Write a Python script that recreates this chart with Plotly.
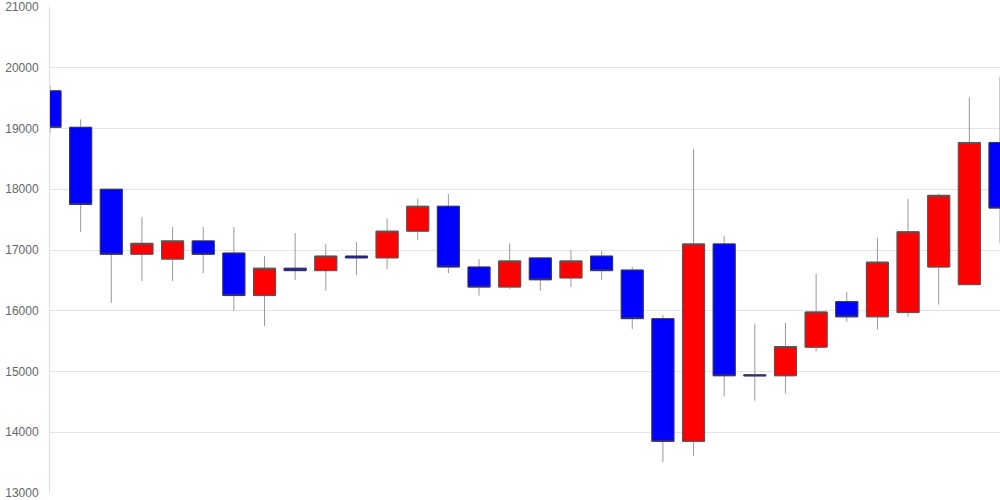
import plotly.graph_objects as go

UP, DN = "#ff0000", "#0000ff"

# 32 sessions, values
idx = list(range(32))
opens = [19620, 19020, 18000, 16930, 16850, 17150, 16950, 16250, 16700, 16660,
         16900, 16870, 17310, 17720, 16720, 16390, 16870, 16540, 16900, 16670,
         15870, 13850, 17100, 14945, 14930, 15400, 16150, 15900, 15970, 16720,
         16430, 18770]
highs = [19705, 19150, 18000, 17540, 17380, 17380, 17380, 16900, 17280, 17100,
         17130, 17520, 17850, 17920, 16850, 17110, 16870, 17000, 16980, 16720,
         15930, 18660, 17230, 15790, 15800, 16610, 16310, 17200, 17840, 17930,
         19510, 19850]
lows = [18920, 17300, 16130, 16490, 16490, 16620, 16000, 15750, 16510, 16330,
        16590, 16690, 17160, 16620, 16250, 16360, 16330, 16390, 16510, 15700,
        13510, 13610, 14590, 14520, 14640, 15330, 15820, 15690, 15900, 16100,
        16430, 17110]
closes = [19020, 17750, 16930, 17110, 17150, 16930, 16250, 16700, 16660, 16900,
          16870, 17310, 17720, 16720, 16390, 16820, 16510, 16820, 16660, 15870,
          13850, 17100, 14930, 14930, 15410, 15980, 15900, 16800, 17300, 17900,
          18770, 17690]

body_hi = [max(o, c) for o, c in zip(opens, closes)]
body_lo = [min(o, c) for o, c in zip(opens, closes)]

fig = go.Figure()
# 꼬리(wick) - light gray
fig.add_trace(go.Candlestick(
    x=idx, open=opens, high=highs, low=lows, close=closes,
    increasing=dict(line=dict(color="#999999", width=1), fillcolor="rgba(0,0,0,0)"),
    decreasing=dict(line=dict(color="#999999", width=1), fillcolor="rgba(0,0,0,0)"),
    showlegend=False, hoverinfo="skip"))
# 몸통(body)
fig.add_trace(go.Candlestick(
    x=idx, open=opens, high=body_hi, low=body_lo, close=closes,
    increasing=dict(line=dict(color="#555555", width=1), fillcolor=UP),
    decreasing=dict(line=dict(color="#333366", width=1), fillcolor=DN),
    showlegend=False))

fig.update_layout(
    width=1000, height=500,
    margin=dict(l=50, r=0, t=6, b=6),
    paper_bgcolor="white", plot_bgcolor="white",
    boxgap=0.28, boxgroupgap=0, boxmode="overlay",
    font=dict(family="Liberation Sans, Arial, sans-serif", size=12, color="#666666"),
    xaxis=dict(range=[0, 31], showticklabels=False, showgrid=False, zeroline=False,
               rangeslider=dict(visible=False), fixedrange=True),
    yaxis=dict(range=[13000, 21000], dtick=1000, tick0=13000, showgrid=True,
               gridcolor="#e3e3e3", gridwidth=1, zeroline=False,
               showline=True, linecolor="#dddddd", linewidth=1,
               ticks="", ticklabelstandoff=8, tickformat="d",
               ticklabeloverflow="allow"),
)

fig.write_html("out.html", config={"displayModeBar": False},
               post_script="document.body.style.margin='0';")
